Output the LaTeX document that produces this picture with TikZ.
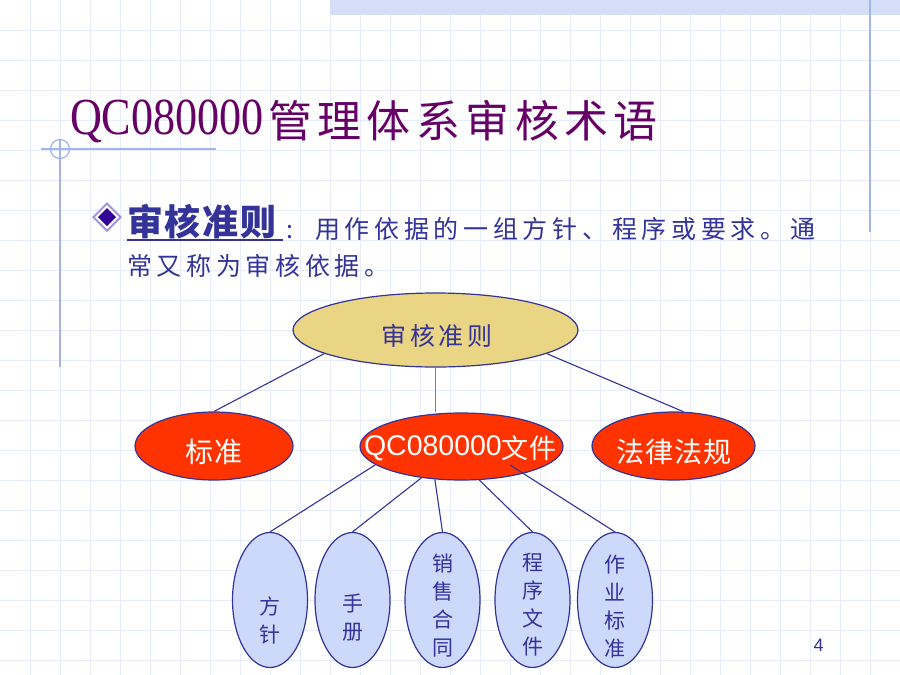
\documentclass[tikz,border=0pt]{standalone}
\usepackage{fontspec}
\usepackage{graphicx}
\usetikzlibrary{shapes.geometric,calc}
\setmainfont{Liberation Sans}
\newfontfamily\cjk{Noto Sans CJK SC}
\newfontfamily\serifl{Liberation Serif}
\definecolor{navy}{HTML}{333399}
\definecolor{titlec}{HTML}{660066}
\definecolor{gridc}{HTML}{E6ECFC}
\definecolor{decoc}{HTML}{A3B3F0}
\definecolor{bandc}{HTML}{D5DEF7}
\definecolor{khaki}{HTML}{E9D583}
\definecolor{redc}{HTML}{FF3300}
\definecolor{paleb}{HTML}{CDD9FB}
\definecolor{bulletc}{HTML}{330099}
\definecolor{bulletl}{HTML}{A096DC}
\definecolor{stemc}{HTML}{7878B4}
\tikzset{
  ell/.style={ellipse, draw=navy, line width=1.2pt, inner sep=0pt},
  conn/.style={draw=navy, line width=1.1pt},
  txt/.style={inner sep=0pt, outer sep=0pt},
  redtxt/.style={txt, text=white, font=\cjk\fontsize{28}{30}\selectfont\addfontfeature{LetterSpace=3}},
  vtxt/.style={txt, text=navy, align=center, font=\cjk\fontsize{21}{28}\selectfont}
}
\begin{document}
\begin{tikzpicture}[x=1pt,y=-1pt]
\useasboundingbox (0,0) rectangle (900,675);
\fill[white] (0,0) rectangle (900,675);
% background grid
\foreach \i in {30,60,...,870} \draw[gridc, line width=0.9pt] (\i,0) -- (\i,675);
\foreach \j in {30,60,...,660} \draw[gridc, line width=0.9pt] (0,\j) -- (900,\j);
% decorations
\fill[bandc] (330,0) rectangle (900,15);
\draw[decoc, line width=2pt] (870,0) -- (870,232);
\draw[decoc, line width=2pt] (41,149) -- (216,149);
\draw[decoc, line width=1.5pt] (60,140) -- (60,367);
\draw[decoc, line width=1.3pt] (60,149) circle (9.5);
% title
\node[txt, anchor=base west, text=titlec] (tlat) at (70,134)
  {\scalebox{0.85}[1]{\serifl\fontsize{52}{56}\selectfont QC080000}};
\node[txt, anchor=base west, text=titlec,
  font=\cjk\fontsize{44}{48}\selectfont\addfontfeature{LetterSpace=12.3}] (tcjk) at (268,137) {管理体系审核术语};
% bullet
\fill[bulletl] (107,202) -- (122,217) -- (107,232) -- (92,217) -- cycle;
\fill[white] (107,205) -- (119,217) -- (107,229) -- (95,217) -- cycle;
\fill[bulletc] (107,208) -- (116,217) -- (107,226) -- (98,217) -- cycle;
% body text
\node[txt, anchor=base west, text=navy,
  font=\cjk\bfseries\fontsize{36}{40}\selectfont\addfontfeature{LetterSpace=5.5}] (term) at (127,235) {审核准则};
\draw[navy, line width=2pt] (127,240) -- (283,240);
\node[txt, anchor=base west, text=navy, font=\cjk\fontsize{25}{30}\selectfont] (colon) at (286,238) {:};
\node[txt, anchor=base west, text=navy,
  font=\cjk\fontsize{25}{30}\selectfont\addfontfeature{LetterSpace=18.8}] (line1) at (315,238) {用作依据的一组方针、程序或要求。通};
\node[txt, anchor=base west, text=navy,
  font=\cjk\fontsize{25}{30}\selectfont\addfontfeature{LetterSpace=18.8}] (line2) at (127,275) {常又称为审核依据。};
% diagram ellipses
\node[ell, fill=khaki, minimum width=285, minimum height=74] (top) at (435.5,330) {};
\node[ell, fill=redc, minimum width=158, minimum height=68] (std) at (214,446) {};
\node[ell, fill=redc, minimum width=203, minimum height=67] (qc) at (461.5,446.5) {};
\node[ell, fill=redc, minimum width=163, minimum height=68] (law) at (673.5,446) {};
\foreach \n/\x in {b1/270, b2/352.5, b3/442.5, b4/532.5, b5/615}
  \node[ell, fill=paleb, minimum width=75, minimum height=135] (\n) at (\x,600) {};
% connectors
\coordinate (q5) at ($(qc.center)+(48.5,18.5)$);
\draw[conn] (top.192.2) -- (std.north);
\draw[conn, draw=stemc, line width=1.6pt] (top.south) -- (top.south |- qc.north);
\draw[conn] (top.-12.2) -- (law.74);
\draw[conn] (qc.192.1) -- (b1.north);
\draw[conn] (qc.218.9) -- (b2.north);
\draw[conn] (qc.231.7) -- (b3.north);
\draw[conn] (qc.298.9) -- (b4.north);
\draw[conn] (q5) -- (b5.north);
% texts in ellipses
\node[txt, text=navy, font=\cjk\fontsize{25}{30}\selectfont\addfontfeature{LetterSpace=15}] (topt) at (437,336) {审核准则};
\node[redtxt] (stdt) at (214,452) {标准};
\node[redtxt] (lawt) at (674,452) {法律法规};
\node[txt, anchor=base west, text=white] (qct) at (364,455)
  {\fontsize{28.5}{30}\selectfont QC080000\cjk\fontsize{27}{30}\selectfont\addfontfeature{LetterSpace=3}\raisebox{-3pt}{文件}};
\node[vtxt] (t1) at (270,620) {方\\针};
\node[vtxt] (t2) at (352.5,618) {手\\册};
\node[vtxt] (t3) at (442.5,605.5) {销\\售\\合\\同};
\node[vtxt] (t4) at (532.5,605) {程\\序\\文\\件};
\node[vtxt] (t5) at (615,606.5) {作\\业\\标\\准};
% page number
\node[txt, text=navy, font=\fontsize{18}{20}\selectfont] (pg) at (818.5,645.5) {4};
\end{tikzpicture}
\end{document}
